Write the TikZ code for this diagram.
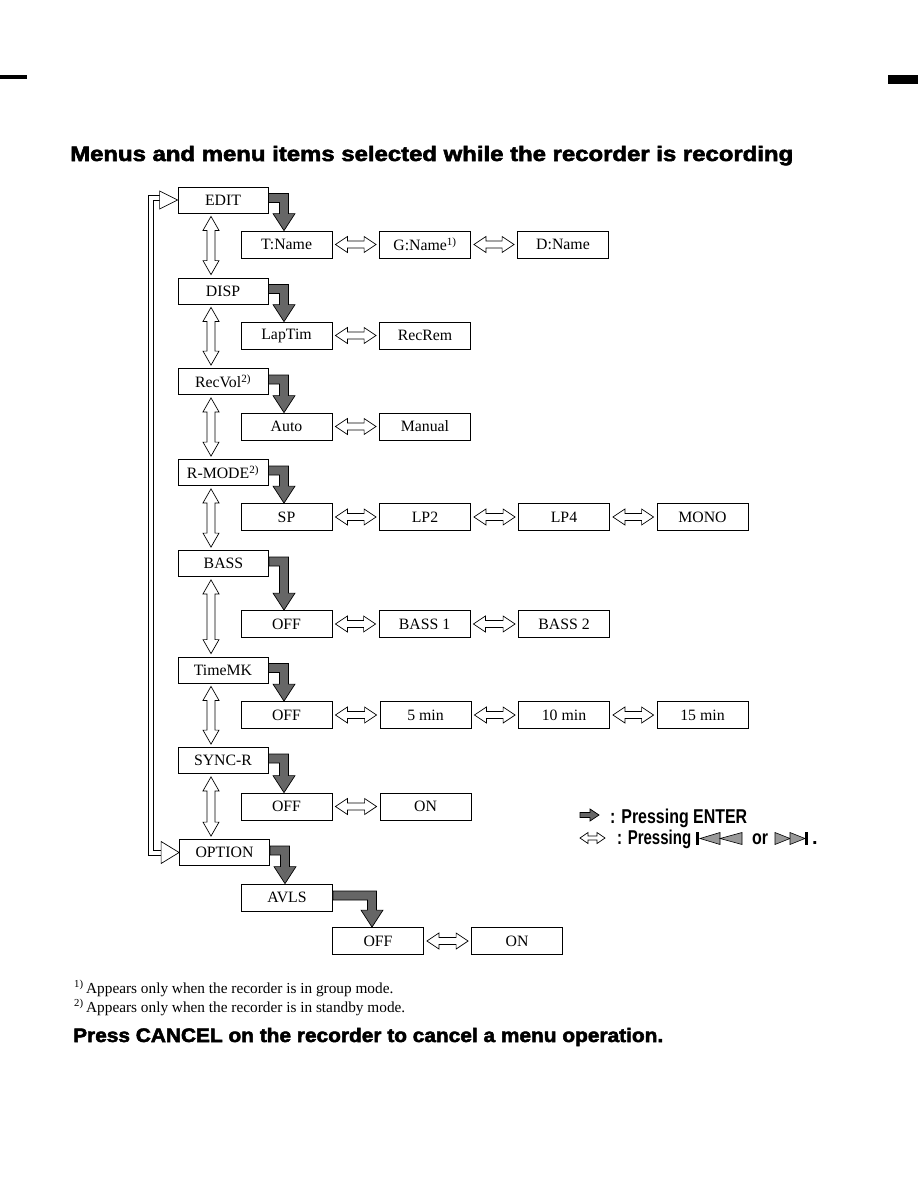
\documentclass[tikz,border=0pt]{standalone}
\usepackage{fontspec}
\usepackage{graphicx}
\setmainfont{Liberation Serif}
\newfontfamily\hv{Liberation Sans}
\newfontfamily\hvheavy[BoldFeatures={FakeBold=2.5}]{Liberation Sans}
\usetikzlibrary{calc}
\newcommand\hdbl[2]{%
  \path[dbl] let \p1=(#1), \p2=(#2) in
   (\x1,\y1) -- (\x1+12pt,\y1+8pt) -- (\x1+12pt,\y1+3.5pt) -- (\x2-12pt,\y1+3.5pt) -- (\x2-12pt,\y1+8pt)
   -- (\x2,\y1) -- (\x2-12pt,\y1-8pt) -- (\x2-12pt,\y1-3.5pt) -- (\x1+12pt,\y1-3.5pt) -- (\x1+12pt,\y1-8pt) -- cycle;}
\newcommand\vdbl[2]{%
  \path[dbl] let \p1=(#1), \p2=(#2) in
   (\x1,\y1) -- (\x1+8pt,\y1-14pt) -- (\x1+4pt,\y1-14pt) -- (\x1+4pt,\y2+14pt) -- (\x1+8pt,\y2+14pt)
   -- (\x1,\y2) -- (\x1-8pt,\y2+14pt) -- (\x1-4pt,\y2+14pt) -- (\x1-4pt,\y1-14pt) -- (\x1-8pt,\y1-14pt) -- cycle;}
\newcommand\enterarrow[2]{%
  \path[enter] let \p1=(#1), \p2=(#2) in
   (\x1,\y1+4.5pt) -- (\x2+4.5pt,\y1+4.5pt) -- (\x2+4.5pt,\y2+17pt) -- (\x2+11pt,\y2+17pt) -- (\x2,\y2)
   -- (\x2-11pt,\y2+17pt) -- (\x2-4.5pt,\y2+17pt) -- (\x2-4.5pt,\y1-4.5pt) -- (\x1,\y1-4.5pt) -- cycle;}
\begin{document}
\begin{tikzpicture}[x=1pt,y=-1pt,
  menu/.style={draw,line width=0.8pt,minimum width=90pt,minimum height=26pt,inner sep=0pt,
    font=\fontsize{15.8}{16}\selectfont},
  sub/.style={menu,minimum width=91pt,minimum height=27pt},
  dbl/.style={draw,line width=0.7pt,fill=white,line join=miter},
  enter/.style={draw,line width=0.7pt,fill=black!60,line join=miter},
  loopline/.style={draw,line width=0.8pt,line join=miter},
  icon/.style={draw,fill=black!40,line width=0.6pt},
  txt/.style={anchor=base west,inner sep=0pt}]
\useasboundingbox (0,0) rectangle (918,1188);
\fill[white] (0,0) rectangle (918,1188);
% scan edge marks
\fill (0,75) rectangle (27,79);
\fill (888,75) rectangle (918,84);
% title
\node[txt] (title) at (70,161) {\resizebox{723pt}{\height}{\hvheavy\bfseries\fontsize{21}{21}\selectfont Menus and menu items selected while the recorder is recording}};
% menus
\node[menu] (edit) at (223,200) {EDIT};
\node[menu] (disp) at (223,291) {DISP};
\node[menu] (recvol) at (223,381.5) {RecVol\textsuperscript{2)}};
\node[menu] (rmode) at (223,472.5) {R-MODE\textsuperscript{2)}};
\node[menu] (bass) at (223.5,563.5) {BASS};
\node[menu] (timemk) at (223,670) {TimeMK};
\node[menu] (syncr) at (223,760.5) {SYNC-R};
\node[menu] (option) at (224.5,852.5) {OPTION};
% submenus
\node[sub] (tname) at (286.5,244.5) {T:Name};
\node[sub] (gname) at (425,244.5) {G:Name\textsuperscript{1)}};
\node[sub] (dname) at (563,244.5) {D:Name};
\node[sub] (laptim) at (286.5,335.5) {LapTim};
\node[sub] (recrem) at (425,335.5) {RecRem};
\node[sub] (auto) at (286.5,426.5) {Auto};
\node[sub] (manual) at (425,426.5) {Manual};
\node[sub] (sp) at (286.5,517) {SP};
\node[sub] (lp2) at (425,517) {LP2};
\node[sub] (lp4) at (564,517) {LP4};
\node[sub] (mono) at (702.5,517) {MONO};
\node[sub] (offa) at (286.5,624) {OFF};
\node[sub] (bassi) at (424.5,624) {BASS 1};
\node[sub] (bassii) at (564,624) {BASS 2};
\node[sub] (offb) at (286.5,715) {OFF};
\node[sub] (mv) at (425.5,715) {5 min};
\node[sub] (mx) at (564,715) {10 min};
\node[sub] (mxv) at (702.5,715) {15 min};
\node[sub] (offc) at (286.5,806.5) {OFF};
\node[sub] (onc) at (425.5,806.5) {ON};
\node[sub] (avls) at (287,897.5) {AVLS};
\node[sub] (offd) at (378,941) {OFF};
\node[sub] (ond) at (517,941) {ON};
% vertical double arrows
\vdbl{$(edit.south)+(-12,3)$}{$(disp.north)+(-12,-3)$}
\vdbl{$(disp.south)+(-12,3)$}{$(recvol.north)+(-12,-3)$}
\vdbl{$(recvol.south)+(-12,3)$}{$(rmode.north)+(-12,-3)$}
\vdbl{$(rmode.south)+(-12,3)$}{$(bass.north)+(-12.5,-3)$}
\vdbl{$(bass.south)+(-12.5,3)$}{$(timemk.north)+(-12,-3)$}
\vdbl{$(timemk.south)+(-12,3)$}{$(syncr.north)+(-12,-3)$}
\vdbl{$(syncr.south)+(-12,3)$}{$(option.north)+(-13.5,-3)$}
% enter arrows
\enterarrow{$(edit.east)+(0,-2)$}{$(tname.north)+(-2.5,0)$}
\enterarrow{$(disp.east)+(0,-2)$}{$(laptim.north)+(-2.5,0)$}
\enterarrow{$(recvol.east)+(0,-2)$}{$(auto.north)+(-2.5,0)$}
\enterarrow{$(rmode.east)+(0,-2)$}{$(sp.north)+(-2.5,0)$}
\enterarrow{$(bass.east)+(0,-2)$}{$(offa.north)+(-2.5,0)$}
\enterarrow{$(timemk.east)+(0,-2)$}{$(offb.north)+(-2.5,0)$}
\enterarrow{$(syncr.east)+(0,-2)$}{$(offc.north)+(-2.5,0)$}
\enterarrow{$(option.east)+(0,-2)$}{$(avls.north)+(-2,0)$}
\enterarrow{$(avls.east)+(0,-2)$}{$(offd.north)+(-6,0)$}
% horizontal double arrows
\hdbl{$(tname.east)+(3,0)$}{$(gname.west)+(-3,0)$}
\hdbl{$(gname.east)+(3,0)$}{$(dname.west)+(-3,0)$}
\hdbl{$(laptim.east)+(3,0)$}{$(recrem.west)+(-3,0)$}
\hdbl{$(auto.east)+(3,0)$}{$(manual.west)+(-3,0)$}
\hdbl{$(sp.east)+(3,0)$}{$(lp2.west)+(-3,0)$}
\hdbl{$(lp2.east)+(3,0)$}{$(lp4.west)+(-3,0)$}
\hdbl{$(lp4.east)+(3,0)$}{$(mono.west)+(-3,0)$}
\hdbl{$(offa.east)+(3,0)$}{$(bassi.west)+(-3,0)$}
\hdbl{$(bassi.east)+(3,0)$}{$(bassii.west)+(-3,0)$}
\hdbl{$(offb.east)+(3,0)$}{$(mv.west)+(-3,0)$}
\hdbl{$(mv.east)+(3,0)$}{$(mx.west)+(-3,0)$}
\hdbl{$(mx.east)+(3,0)$}{$(mxv.west)+(-3,0)$}
\hdbl{$(offc.east)+(3,0)$}{$(onc.west)+(-3,0)$}
\hdbl{$(offd.east)+(3,0)$}{$(ond.west)+(-3,0)$}
% loop back (double line)
\draw[loopline] ($(option.west)+(-18,3)$) -| ($(edit.west)+(-29,-5)$) -- ($(edit.west)+(-18,-5)$);
\draw[loopline] ($(option.west)+(-18,-2)$) -| ($(edit.west)+(-24,0)$) -- ($(edit.west)+(-18,0)$);
\draw[dbl] (edit.west) -- ++(-18pt,9pt) -- ++(0pt,-18pt) -- cycle;
\draw[dbl] (option.west) -- ++(-18pt,11pt) -- ++(0pt,-22pt) -- cycle;
% legend
\path[enter] (580,812.5) -- (590,812.5) -- (590,809) -- (599,815) -- (590,821) -- (590,817.5) -- (580,817.5) -- cycle;
\node[txt] (leg1) at (610,823) {\resizebox{137pt}{\height}{\hv\bfseries\fontsize{20}{20}\selectfont : Pressing ENTER}};
\path[dbl] (580,838) -- (588,832.5) -- (588,836) -- (597,836) -- (597,832.5) -- (605,838) -- (597,843.5) -- (597,840) -- (588,840) -- (588,843.5) -- cycle;
\node[txt] (leg2) at (617,844) {\resizebox{74pt}{\height}{\hv\bfseries\fontsize{20}{20}\selectfont : Pressing}};
\fill (696,832) rectangle (699,845);
\path[icon] (700,838.5) -- (720,832.5) -- (720,844.5) -- cycle;
\path[icon] (720,838.5) -- (742,832.5) -- (742,844.5) -- cycle;
\node[txt] (leg3) at (752,844) {\resizebox{16pt}{\height}{\hv\bfseries\fontsize{20}{20}\selectfont or}};
\path[icon] (775,832.5) -- (790,838.5) -- (775,844.5) -- cycle;
\path[icon] (790,832.5) -- (805,838.5) -- (790,844.5) -- cycle;
\fill (805,832) rectangle (808,845);
\node[txt] (leg4) at (812,844) {\hv\bfseries\fontsize{20}{20}\selectfont .};
% footnotes
\node[txt] (fn1) at (74,993) {\fontsize{15.3}{15}\selectfont\textsuperscript{1)}\,Appears only when the recorder is in group mode.};
\node[txt] (fn2) at (74,1012) {\fontsize{15.3}{15}\selectfont\textsuperscript{2)}\,Appears only when the recorder is in standby mode.};
\node[txt] (cancel) at (73,1042) {\resizebox{590pt}{\height}{\hvheavy\bfseries\fontsize{19.5}{19.5}\selectfont Press CANCEL on the recorder to cancel a menu operation.}};
\end{tikzpicture}
\end{document}
